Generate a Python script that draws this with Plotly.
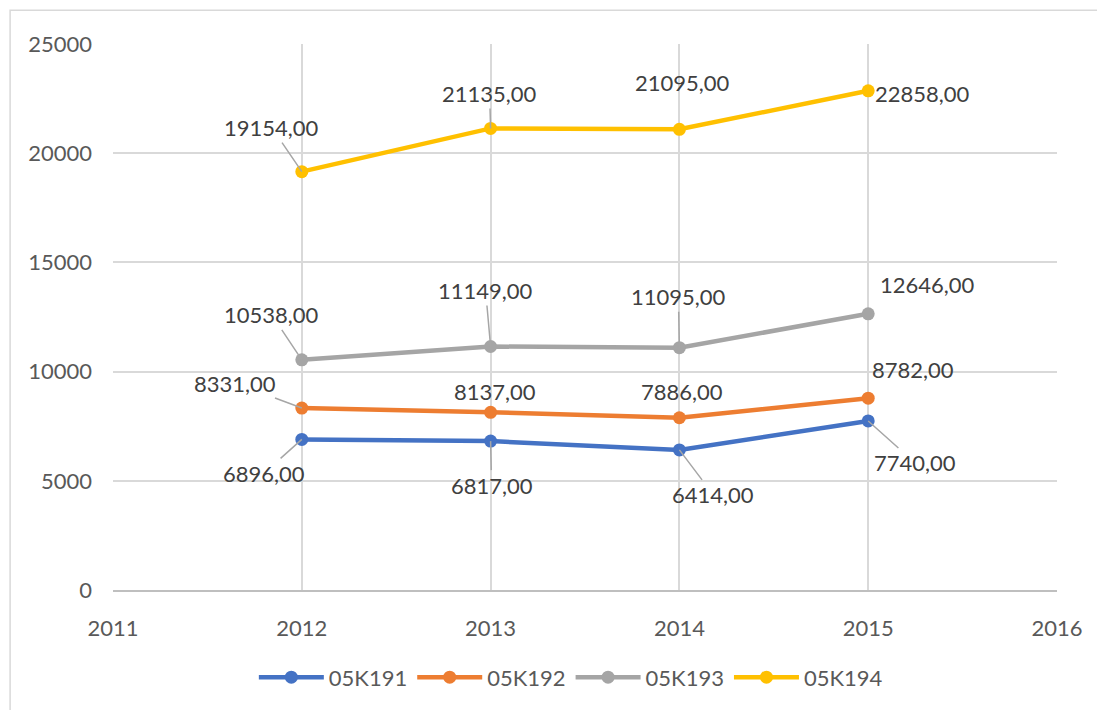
import plotly.graph_objects as go

# Datos
years = [2012, 2013, 2014, 2015]
series_names = ['05K191', '05K192', '05K193', '05K194']
v_05k191 = [6896, 6817, 6414, 7740]
v_05k192 = [8331, 8137, 7886, 8782]
v_05k193 = [10538, 11149, 11095, 12646]
v_05k194 = [19154, 21135, 21095, 22858]

COLORS = ['#4472C4', '#ED7D31', '#A5A5A5', '#FFC000']

# Posición de etiquetas (desplazamiento en px) y si llevan línea guía
LABEL_POS = {
    '05K191': [(-38, 34, True), (1, 44, True), (34, 45, True), (47, 42, True)],
    '05K192': [(-67, -25, True), (4, -21, False), (3, -26, False), (45, -29, False)],
    '05K193': [(-30, -45, True), (-5, -56, True), (-1, -51, True), (59, -29, False)],
    '05K194': [(-30, -44, True), (-1, -35, True), (3, -47, False), (54, 3, False)],
}

FONT = 'Lato, Calibri, sans-serif'
TEXT_COLOR = '#404040'
TICK_COLOR = '#595959'
FSIZE = 22

fig = go.Figure()

all_values = [v_05k191, v_05k192, v_05k193, v_05k194]
for name, vals, color in zip(series_names, all_values, COLORS):
    fig.add_trace(go.Scatter(
        x=years, y=vals,
        mode='lines+markers',
        name=name,
        line=dict(color=color, width=4.5),
        marker=dict(color=color, size=13),
    ))
    for x, v, (dx, dy, leader) in zip(years, vals, LABEL_POS[name]):
        text = f"{v:.2f}".replace('.', ',')
        if leader:
            fig.add_annotation(
                x=x, y=v, text=text,
                showarrow=True, arrowhead=0, arrowwidth=1.5,
                arrowcolor='#a6a6a6', ax=dx, ay=dy, standoff=0,
                font=dict(family=FONT, size=FSIZE, color=TEXT_COLOR),
            )
        else:
            fig.add_annotation(
                x=x, y=v, text=text, showarrow=False,
                xshift=dx, yshift=-dy,
                font=dict(family=FONT, size=FSIZE, color=TEXT_COLOR),
            )

# Marco exterior del gráfico
fig.add_shape(
    type='rect', xref='paper', yref='paper',
    x0=-0.109, x1=1.2, y0=-0.4, y1=1.062,
    line=dict(color='#d9d9d9', width=1.5), layer='below',
)

fig.update_layout(
    template='plotly_white',
    margin=dict(l=105, r=40, t=36, b=116),
    paper_bgcolor='white',
    plot_bgcolor='white',
    font=dict(family=FONT, size=FSIZE, color=TICK_COLOR),
    showlegend=True,
    legend=dict(
        orientation='h',
        x=0.485, xanchor='center',
        y=-0.16, yanchor='middle',
        font=dict(family=FONT, size=FSIZE, color=TICK_COLOR),
        itemwidth=65,
    ),
    xaxis=dict(
        range=[2011, 2016], dtick=1, tick0=2011,
        showgrid=True, gridcolor='#d9d9d9', gridwidth=1.5,
        showline=True, linecolor='#bfbfbf', linewidth=1.5,
        zeroline=False, ticks='', ticklabelstandoff=18,
        tickfont=dict(family=FONT, size=FSIZE, color=TICK_COLOR),
    ),
    yaxis=dict(
        range=[0, 25000], dtick=5000, tickformat='d',
        showgrid=True, gridcolor='#d9d9d9', gridwidth=1.5,
        zeroline=False, ticks='', ticklabelstandoff=20,
        tickfont=dict(family=FONT, size=FSIZE, color=TICK_COLOR),
    ),
)

fig.write_html("out.html")
